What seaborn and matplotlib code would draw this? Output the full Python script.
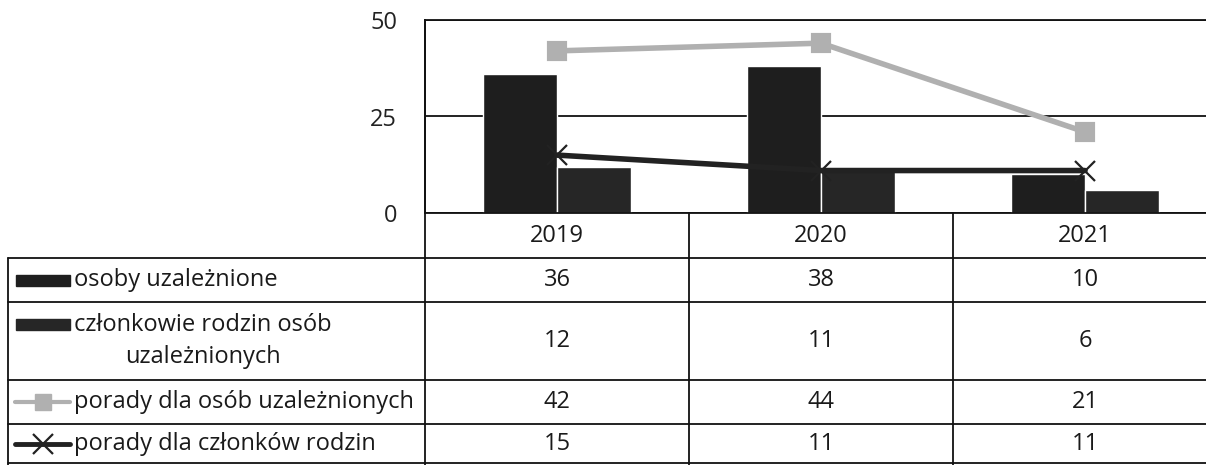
import matplotlib
matplotlib.use('Agg')
import matplotlib.pyplot as plt
import seaborn as sns
import pandas as pd
from matplotlib.patches import Rectangle

# data
years = ['2019', '2020', '2021']
osoby = [36, 38, 10]
czlonkowie = [12, 11, 6]
porady_osob = [42, 44, 21]
porady_rodzin = [15, 11, 11]

labels = ['osoby uzależnione',
          'członkowie rodzin osób\nuzależnionych',
          'porady dla osób uzależnionych',
          'porady dla członków rodzin']

sns.set_theme(style='white')
plt.rcParams['font.family'] = ['Open Sans', 'DejaVu Sans']

W, H = 1206, 465
fig = plt.figure(figsize=(W / 100, H / 100), dpi=100)

# plot area in pixels (right edge runs a bit past the image)
x0, x1 = 425, 1217
y_top, y_bot = 20, 213
ax = fig.add_axes([x0 / W, 1 - y_bot / H, (x1 - x0) / W, (y_bot - y_top) / H])

bar_colors = ['#1e1e1e', '#262626']
bars = pd.DataFrame({
    'rok': years * 2,
    'wartosc': osoby + czlonkowie,
    'seria': [labels[0]] * 3 + [labels[1]] * 3,
})
sns.barplot(data=bars, x='rok', y='wartosc', hue='seria',
            palette=bar_colors, width=0.56, gap=0,
            saturation=1, errorbar=None, legend=False, ax=ax)
sns.pointplot(x=years, y=porady_osob, color='#b0b0b0', markers='s',
              markersize=12, linewidth=4, errorbar=None, ax=ax)
sns.pointplot(x=years, y=porady_rodzin, color='#222222', markers='x',
              markersize=14, linewidth=4, errorbar=None, ax=ax)
ax.lines[-1].set_markeredgewidth(1.6)

ax.set_ylim(0, 50)
ax.set_yticks([0, 25, 50])
ax.set_xlabel('')
ax.set_ylabel('')
ax.set_xticks([])
ax.tick_params(axis='y', length=0, pad=20, labelsize=17, labelcolor='#222222')
ax.yaxis.grid(True, color='#111111', linewidth=1.3)
ax.set_axisbelow(True)
for side in ['top', 'left', 'bottom']:
    ax.spines[side].set_color('#111111')
    ax.spines[side].set_linewidth(1.3)
ax.spines['right'].set_visible(False)

# data table under the plot
tab = fig.add_axes([0, 0, 1, 1])
tab.set_xlim(0, W)
tab.set_ylim(H, 0)
tab.axis('off')

rows_y = [213, 258, 302, 380, 424, 463]
col_w = (x1 - x0) / len(years)
col_x = [x0 + i * col_w for i in range(len(years) + 1)]
left = 8
lc = '#111111'

for y in rows_y[1:]:
    tab.plot([left, W], [y, y], color=lc, lw=1.3)
tab.plot([left, left], [rows_y[1], H], color=lc, lw=1.3)
tab.plot([x0, x0], [y_top, H], color=lc, lw=1.3)
for x in col_x[1:-1]:
    tab.plot([x, x], [rows_y[0], H], color=lc, lw=1.3)

fs = 17
tc = '#1a1a1a'
for i, yr in enumerate(years):
    cx = (col_x[i] + col_x[i + 1]) / 2
    tab.text(cx, (rows_y[0] + rows_y[1]) / 2, yr, ha='center', va='center',
             fontsize=fs, color=tc)

series = [osoby, czlonkowie, porady_osob, porady_rodzin]
for r, vals in enumerate(series):
    cy = (rows_y[r + 1] + rows_y[r + 2]) / 2
    for i, v in enumerate(vals):
        cx = (col_x[i] + col_x[i + 1]) / 2
        tab.text(cx, cy, str(v), ha='center', va='center', fontsize=fs, color=tc)
    tab.text(74, cy, labels[r], ha='left', va='center', fontsize=fs,
             color=tc, multialignment='center', linespacing=1.4)

# legend keys in the first column
key_y = [280, 324, 402, 444]
for r in range(2):
    tab.add_patch(Rectangle((16, key_y[r] - 5.5), 54, 11, color=bar_colors[r]))
tab.plot([15, 70], [key_y[2]] * 2, color='#b0b0b0', lw=3)
tab.plot([42.5], [key_y[2]], marker='s', color='#b0b0b0', markersize=12)
tab.plot([15, 70], [key_y[3]] * 2, color='#222222', lw=3.5)
tab.plot([42.5], [key_y[3]], marker='x', color='#222222', markersize=14,
         markeredgewidth=1.6)

fig.savefig('out.png', dpi=100)
